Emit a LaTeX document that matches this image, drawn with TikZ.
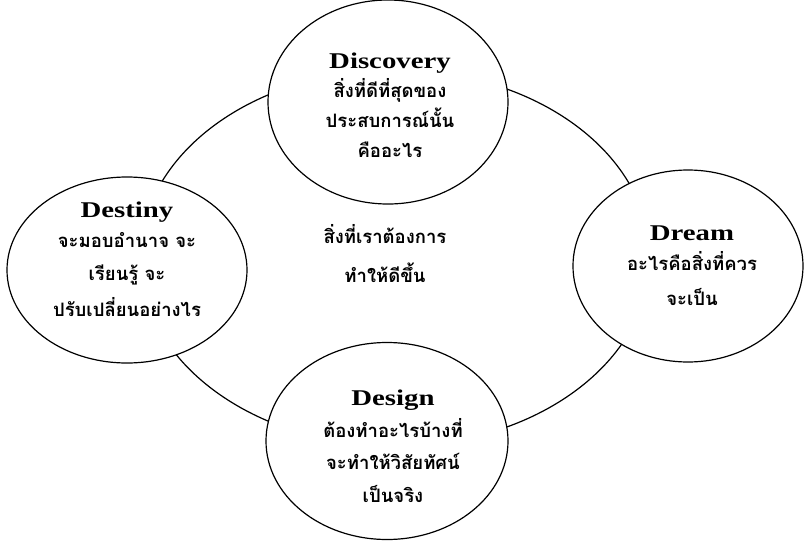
\documentclass[tikz,border=0pt]{standalone}
\usepackage{fontspec}
\usetikzlibrary{shapes.geometric}
\newfontfamily\titlefont[FakeStretch=1.28]{Liberation Serif}
\newfontfamily\thaifont[Script=Thai]{Loma}
\tikzset{
  ring/.style={ellipse, draw, line width=1.2pt, inner sep=0pt},
  stage/.style={ellipse, draw, fill=white, line width=1.2pt, inner sep=0pt},
  ttl/.style={anchor=base, inner sep=0pt, font=\titlefont\bfseries\fontsize{22.5}{27}\selectfont},
  th/.style={anchor=base, inner sep=0pt, font=\thaifont\bfseries\fontsize{18.5}{22}\selectfont},
}
\begin{document}
\begin{tikzpicture}[x=1pt,y=-1pt]
\useasboundingbox (0,0) rectangle (804,541);
\node[ring, minimum width=510pt, minimum height=376pt] (cycle) at (395,258) {};
\node[stage, minimum width=240pt, minimum height=204pt] (disc) at (388,102) {};
\node[stage, minimum width=240pt, minimum height=186pt] (dest) at (127,270) {};
\node[stage, minimum width=230pt, minimum height=192pt] (drm) at (688,266) {};
\node[stage, minimum width=242pt, minimum height=197pt] (dsg) at (387,441) {};
% Discovery
\node[ttl] (discT) at (390,68) {Discovery};
\node[th] (disc1) at (390,97) {สิ่งที่ดีที่สุดของ};
\node[th] (disc2) at (390,127) {ประสบการณ์นั้น};
\node[th] (disc3) at (390,157) {คืออะไร};
% Destiny
\node[ttl] (destT) at (127,217) {Destiny};
\node[th] (dest1) at (127,247) {จะมอบอำนาจ จะ};
\node[th] (dest2) at (127,280) {เรียนรู้ จะ};
\node[th] (dest3) at (127,316) {ปรับเปลี่ยนอย่างไร};
% Dream
\node[ttl] (drmT) at (692,240) {Dream};
\node[th] (drm1) at (692,270) {อะไรคือสิ่งที่ควร};
\node[th] (drm2) at (692,305) {จะเป็น};
% Design
\node[ttl] (dsgT) at (393,405) {Design};
\node[th] (dsg1) at (393,437) {ต้องทำอะไรบ้างที่};
\node[th] (dsg2) at (393,469) {จะทำให้วิสัยทัศน์};
\node[th] (dsg3) at (393,502) {เป็นจริง};
% centre
\node[th] (ctr1) at (385,243) {สิ่งที่เราต้องการ};
\node[th] (ctr2) at (385,282) {ทำให้ดีขึ้น};
\end{tikzpicture}
\end{document}
